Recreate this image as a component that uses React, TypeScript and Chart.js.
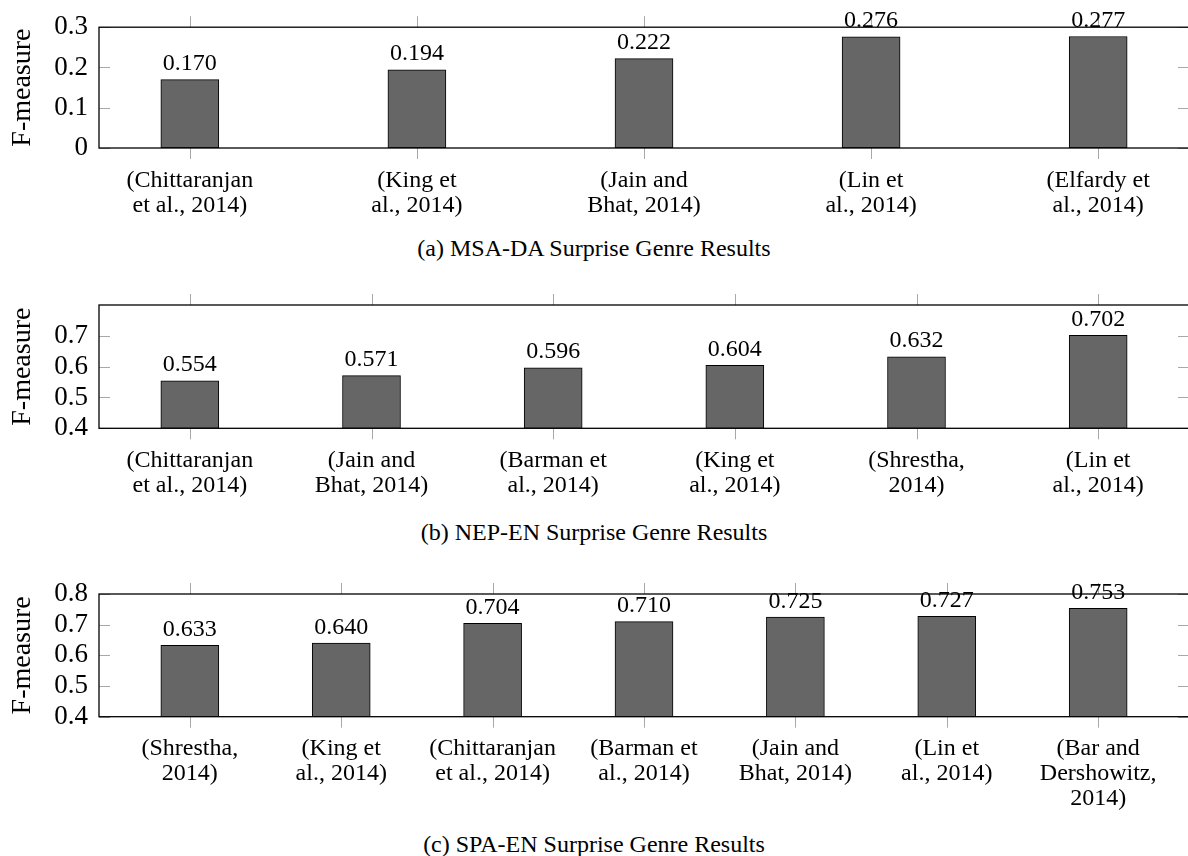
import React, { useEffect, useRef } from "react";
import { Chart, registerables } from "chart.js";

Chart.register(...registerables);

const FONT = '"Liberation Serif"';

// (a) MSA-DA
const categoriesA: string[][] = [
  ["(Chittaranjan", "et al., 2014)"],
  ["(King et", "al., 2014)"],
  ["(Jain and", "Bhat, 2014)"],
  ["(Lin et", "al., 2014)"],
  ["(Elfardy et", "al., 2014)"],
];
const valuesA: number[] = [0.170, 0.194, 0.222, 0.276, 0.277];
const yTicksA: number[] = [0, 0.1, 0.2, 0.3];

// (b) NEP-EN
const categoriesB: string[][] = [
  ["(Chittaranjan", "et al., 2014)"],
  ["(Jain and", "Bhat, 2014)"],
  ["(Barman et", "al., 2014)"],
  ["(King et", "al., 2014)"],
  ["(Shrestha,", "2014)"],
  ["(Lin et", "al., 2014)"],
];
const valuesB: number[] = [0.554, 0.571, 0.596, 0.604, 0.632, 0.702];
const yTicksB: number[] = [0.4, 0.5, 0.6, 0.7];

// (c) SPA-EN
const categoriesC: string[][] = [
  ["(Shrestha,", "2014)"],
  ["(King et", "al., 2014)"],
  ["(Chittaranjan", "et al., 2014)"],
  ["(Barman et", "al., 2014)"],
  ["(Jain and", "Bhat, 2014)"],
  ["(Lin et", "al., 2014)"],
  ["(Bar and", "Dershowitz,", "2014)"],
];
const valuesC: number[] = [0.633, 0.640, 0.704, 0.710, 0.725, 0.727, 0.753];
const yTicksC: number[] = [0.4, 0.5, 0.6, 0.7, 0.8];

const captions: string[] = [
  "(a) MSA-DA Surprise Genre Results",
  "(b) NEP-EN Surprise Genre Results",
  "(c) SPA-EN Surprise Genre Results",
];

type Spec = {
  cats: string[][];
  vals: number[];
  yMin: number;
  yMax: number;
  yTicks: number[];
  xPad: number;
  top: number;
  height: number;
  plotTop: number;
  plotBottom: number;
  captionTop: number;
  caption: string;
};

const specs: Spec[] = [
  { cats: categoriesA, vals: valuesA, yMin: 0, yMax: 0.3, yTicks: yTicksA, xPad: 0.4, top: 0, height: 232, plotTop: 25, plotBottom: 148, captionTop: 236, caption: captions[0] },
  { cats: categoriesB, vals: valuesB, yMin: 0.4, yMax: 0.8, yTicks: yTicksB, xPad: 0.5, top: 262, height: 246, plotTop: 305, plotBottom: 428.3, captionTop: 520, caption: captions[1] },
  { cats: categoriesC, vals: valuesC, yMin: 0.4, yMax: 0.8, yTicks: yTicksC, xPad: 0.6, top: 552, height: 276, plotTop: 594, plotBottom: 716.7, captionTop: 832, caption: captions[2] },
];

const CANVAS_W = 1190;

function BarPanel({ spec }: { spec: Spec }) {
  const ref = useRef<HTMLCanvasElement | null>(null);
  useEffect(() => {
    const canvas = ref.current;
    if (!canvas) return;
    const n = spec.cats.length;
    const framePlugin = {
      id: "frame",
      afterDatasetsDraw(chart: any) {
        const { ctx, chartArea: a, scales } = chart;
        const xs = scales.x;
        const ys = scales.y;
        ctx.save();
        ctx.strokeStyle = "#a8a8a8";
        ctx.lineWidth = 1;
        ctx.beginPath();
        for (let i = 0; i < n; i++) {
          const px = Math.round(xs.getPixelForValue(i)) + 0.5;
          ctx.moveTo(px, a.top - 11);
          ctx.lineTo(px, a.top);
          ctx.moveTo(px, a.bottom);
          ctx.lineTo(px, a.bottom + 11);
        }
        for (const t of spec.yTicks) {
          const py = Math.round(ys.getPixelForValue(t)) + 0.5;
          ctx.moveTo(a.left, py);
          ctx.lineTo(a.left + 11, py);
          ctx.moveTo(a.right - 11, py);
          ctx.lineTo(a.right, py);
        }
        ctx.stroke();
        ctx.strokeStyle = "#000";
        ctx.lineWidth = 1.3;
        ctx.strokeRect(a.left, a.top, a.right - a.left, a.bottom - a.top);
        ctx.fillStyle = "#000";
        ctx.font = `24px ${FONT}`;
        ctx.textAlign = "center";
        ctx.textBaseline = "alphabetic";
        const meta = chart.getDatasetMeta(0);
        meta.data.forEach((bar: any, i: number) => {
          ctx.fillText(spec.vals[i].toFixed(3), bar.x, bar.y - 9.5);
        });
        ctx.restore();
      },
    };
    const chart = new Chart(canvas, {
      type: "bar",
      data: {
        datasets: [
          {
            data: spec.vals.map((v, i) => ({ x: i, y: v })),
            backgroundColor: "#666666",
            borderColor: "#000000",
            borderWidth: 1,
            borderSkipped: false,
            barThickness: 58,
            base: spec.yMin,
          } as any,
        ],
      },
      options: {
        responsive: false,
        animation: false,
        devicePixelRatio: 1,
        layout: { padding: { top: spec.plotTop - spec.top, left: 0, right: 1, bottom: 0 } },
        plugins: { legend: { display: false }, tooltip: { enabled: false }, title: { display: false } },
        scales: {
          x: {
            type: "linear",
            position: "bottom",
            offset: false,
            min: -spec.xPad,
            max: n - 1 + spec.xPad,
            grid: { display: false, drawTicks: false, offset: false },
            border: { display: false },
            afterBuildTicks: (s: any) => {
              s.ticks = spec.cats.map((_, i) => ({ value: i }));
            },
            afterFit: (s: any) => {
              s.height = spec.top + spec.height - spec.plotBottom;
            },
            ticks: {
              autoSkip: false,
              maxRotation: 0,
              minRotation: 0,
              padding: 20,
              color: "#000",
              font: { family: FONT, size: 24, lineHeight: "25px" } as any,
              callback: (v: any) => spec.cats[Math.round(Number(v))] ?? "",
            },
          },
          y: {
            type: "linear",
            position: "left",
            min: spec.yMin,
            max: spec.yMax,
            grid: { display: false, drawTicks: false },
            border: { display: false },
            afterBuildTicks: (s: any) => {
              s.ticks = spec.yTicks.map((v) => ({ value: v }));
            },
            afterFit: (s: any) => {
              s.width = 99;
            },
            title: {
              display: true,
              text: "F-measure",
              color: "#000",
              font: { family: FONT, size: 28, lineHeight: 1.2 },
              padding: { top: 6, bottom: 0 },
            },
            ticks: {
              autoSkip: false,
              padding: 11,
              color: "#000",
              font: { family: FONT, size: 27 },
              callback: (v: any) => (Number(v) === 0 ? "0" : Number(v).toFixed(1)),
            },
          },
        },
      },
      plugins: [framePlugin],
    });
    return () => chart.destroy();
  }, [spec]);
  return (
    <canvas
      ref={ref}
      width={CANVAS_W}
      height={spec.height}
      style={{ position: "absolute", left: 0, top: spec.top, width: CANVAS_W, height: spec.height }}
    />
  );
}

export default function App() {
  return (
    <div style={{ position: "absolute", left: 0, top: 0, width: 1188, height: 856, overflow: "hidden", background: "#fff" }}>
      {specs.map((s, i) => (
        <React.Fragment key={i}>
          <BarPanel spec={s} />
          <div
            style={{
              position: "absolute",
              left: 0,
              top: s.captionTop,
              width: 1188,
              textAlign: "center",
              fontFamily: FONT,
              fontSize: 24,
              lineHeight: "24px",
              color: "#000",
              whiteSpace: "nowrap",
            }}
          >
            {s.caption}
          </div>
        </React.Fragment>
      ))}
    </div>
  );
}
